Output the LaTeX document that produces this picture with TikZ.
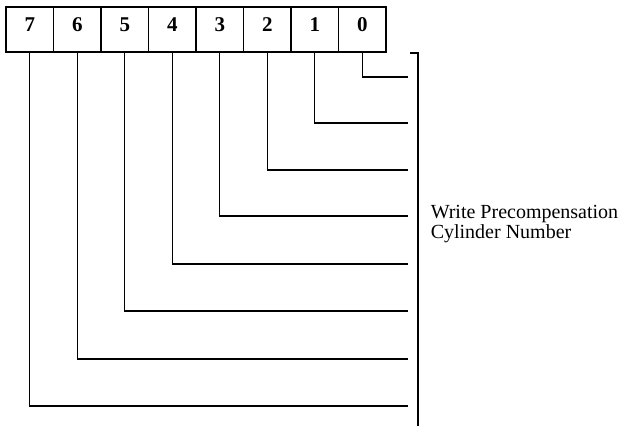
\documentclass[tikz,border=0pt]{standalone}
\usepackage{fontspec}
\setmainfont{Liberation Serif}
\begin{document}
\begin{tikzpicture}[x=1pt,y=-1pt,line width=1.5pt,
  bitbox/.style={draw,inner sep=0pt,minimum width=47.5pt,text height=25pt,text depth=20pt,
    font=\fontsize{21}{21}\selectfont\bfseries},
  wire/.style={draw,line width=1.4pt},
  lbl/.style={align=left,inner sep=0pt,anchor=base west,font=\fontsize{20}{18}\selectfont}]
\useasboundingbox (0,0) rectangle (634,428);
\foreach \i in {0,...,7}{
  \node[bitbox] (b\i) at ({6+47.5*(7-\i)+23.75},29.5) {\i};
}
\foreach \i/\y in {0/77,1/123,2/170,3/216,4/264,5/311,6/359,7/406}{
  \coordinate (e\i) at (408,\y);
  \draw[wire] (b\i.south) |- (e\i);
}
\coordinate (bt) at (418,53);
\coordinate (bb) at (418,426);
\coordinate (bk) at (410,53);
\draw[wire] (bk) -- (bt) -- (bb);
\node[lbl] (t) at (430,238) {Write Precompensation\\Cylinder Number};
\end{tikzpicture}
\end{document}
